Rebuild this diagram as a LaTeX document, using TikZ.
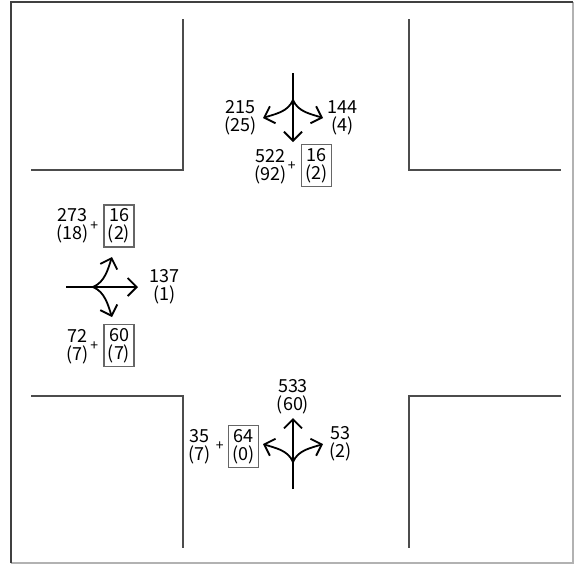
\documentclass[tikz,border=0pt]{standalone}
\usepackage{fontspec}
\setmainfont{Noto Sans CJK JP}
\usetikzlibrary{arrows.meta,positioning}

\begin{document}
\begin{tikzpicture}[
    x=1pt, y=-1pt,
    frame/.style={line width=1.8pt, draw=black!75},
    road/.style={line width=1.8pt, draw=black!70},
    flow/.style={line width=1.8pt, -{Straight Barb[length=9pt,width=18pt]}},
    vol/.style={align=center, inner sep=0pt, font=\fontsize{18}{18}\selectfont},
    ped/.style={vol, draw=black!60, line width=1.2pt, minimum width=30pt, minimum height=42pt},
    plus/.style={inner sep=0pt, font=\fontsize{14}{14}\selectfont}
]
\useasboundingbox (0,0) rectangle (574,565);

% Frame
\draw[frame, draw=black!30] (11,563) -- (573,563) -- (573,2);
\draw[frame] (11,563) -- (11,2) -- (573,2);

% Road edges
\draw[road] (183,19) -- (183,170) -- (31,170);
\draw[road] (409,19) -- (409,170) -- (561,170);
\draw[road] (31,396) -- (183,396) -- (183,548);
\draw[road] (561,396) -- (409,396) -- (409,548);

% North approach
\coordinate (nTail) at (293,73);
\coordinate (nB) at (293,100);
\coordinate (nThru) at (293,142);
\coordinate (nL) at (263,118);
\coordinate (nR) at (323,118);
\draw[flow] (nTail) -- (nThru);
\draw[flow] (nB) .. controls +(-5,12) and +(12,-4) .. (nL);
\draw[flow] (nB) .. controls +(5,12) and +(-12,-4) .. (nR);
\node[vol, left=6pt of nL] (nLVol) {215\\(25)};
\node[vol, right=4pt of nR] (nRVol) {144\\(4)};
\node[ped] (nPed) at (316.5,165.5) {16\\(2)};
\node[plus, left=5pt of nPed, yshift=-1pt] (nPlus) {+};
\node[vol, left=1pt of nPlus] (nThruVol) {522\\(92)};

% West approach
\coordinate (wTail) at (66,287);
\coordinate (wB) at (93,287);
\coordinate (wThru) at (138,287);
\coordinate (wU) at (112,257);
\coordinate (wD) at (112,317);
\draw[flow] (wTail) -- (wThru);
\draw[flow] (wB) .. controls +(12,-5) and +(-4,12) .. (wU);
\draw[flow] (wB) .. controls +(12,5) and +(-4,-12) .. (wD);
\node[vol, right=11pt of wThru] (wThruVol) {137\\(1)};
\node[ped] (wUPed) at (119,226) {16\\(2)};
\node[plus, left=5pt of wUPed] (wUPlus) {+};
\node[vol, left=1pt of wUPlus] (wUVol) {273\\(18)};
\node[ped] (wDPed) at (119,345.5) {60\\(7)};
\node[plus, left=5pt of wDPed, yshift=-1pt] (wDPlus) {+};
\node[vol, left=1pt of wDPlus] (wDVol) {72\\(7)};

% South approach
\coordinate (sTail) at (293,489);
\coordinate (sB) at (293,462);
\coordinate (sThru) at (293,418);
\coordinate (sL) at (263,444);
\coordinate (sR) at (323,444);
\draw[flow] (sTail) -- (sThru);
\draw[flow] (sB) .. controls +(-5,-12) and +(12,4) .. (sL);
\draw[flow] (sB) .. controls +(5,-12) and +(-12,4) .. (sR);
\node[vol, above=4pt of sThru] (sThruVol) {533\\(60)};
\node[vol, right=6pt of sR] (sRVol) {53\\(2)};
\node[ped] (sLPed) at (243.5,446.5) {64\\(0)};
\node[plus, left=4pt of sLPed] (sLPlus) {+};
\node[vol, left=5pt of sLPlus] (sLVol) {35\\(7)};

\end{tikzpicture}
\end{document}
